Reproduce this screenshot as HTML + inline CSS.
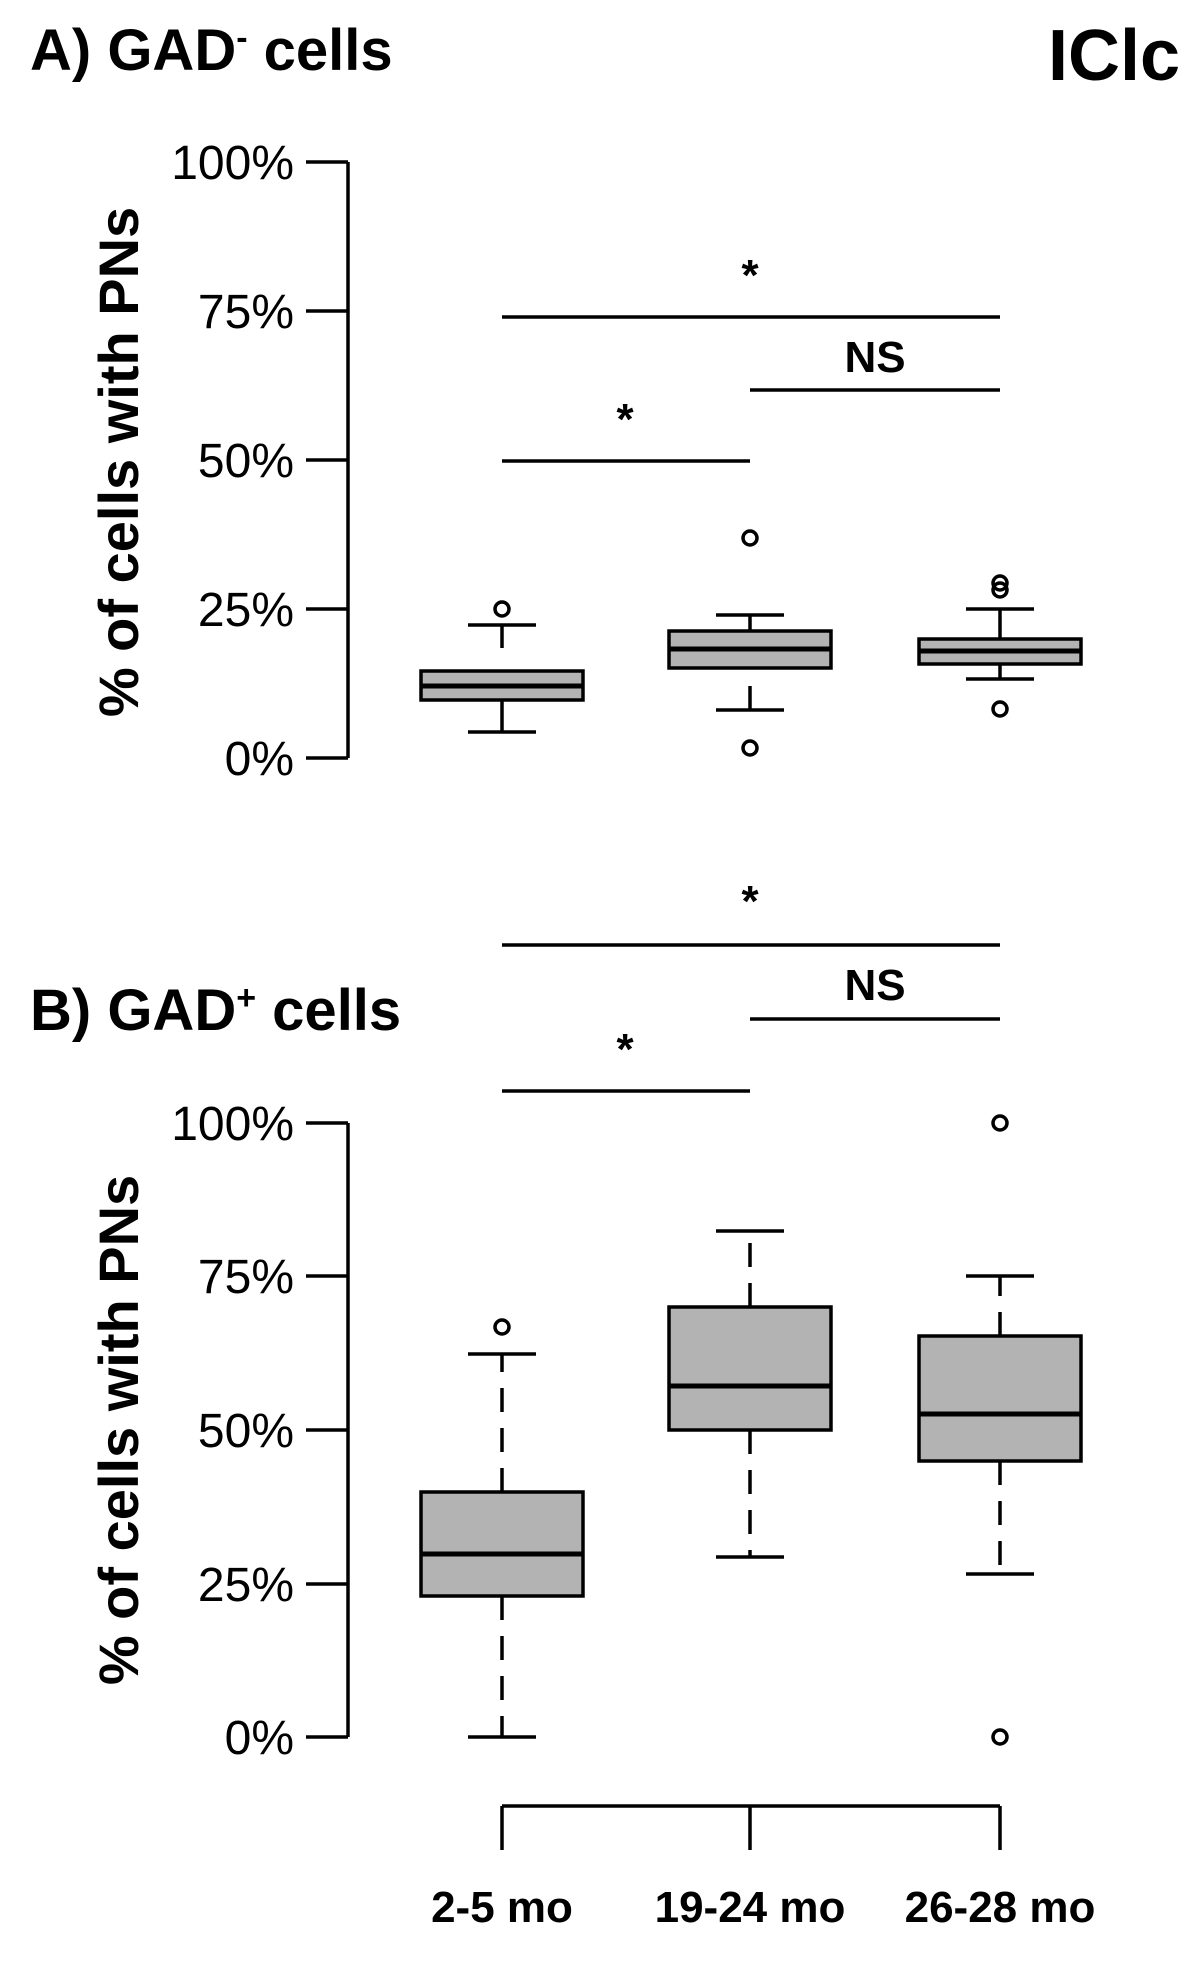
<!DOCTYPE html>
<html><head><meta charset="utf-8"><style>
html,body{margin:0;padding:0;background:#fff}
svg{display:block}
text{font-family:"Liberation Sans",Arial,sans-serif}
</style></head><body>
<svg width="1200" height="1964" viewBox="0 0 1200 1964" xmlns="http://www.w3.org/2000/svg">
<g stroke="#000" stroke-width="3.5" fill="none">
<line x1="348" y1="162" x2="348" y2="758"/>
<line x1="306" y1="162" x2="348" y2="162"/>
<line x1="306" y1="311" x2="348" y2="311"/>
<line x1="306" y1="460" x2="348" y2="460"/>
<line x1="306" y1="609" x2="348" y2="609"/>
<line x1="306" y1="758" x2="348" y2="758"/>
<line x1="502" y1="317" x2="1000" y2="317"/>
<line x1="750" y1="390" x2="1000" y2="390"/>
<line x1="502" y1="461" x2="750" y2="461"/>
<line x1="502" y1="732" x2="502" y2="701"/><line x1="468" y1="732" x2="536" y2="732"/>
<line x1="502" y1="625" x2="502" y2="648"/><line x1="468" y1="625" x2="536" y2="625"/>
<rect x="421" y="671" width="162" height="29" fill="#b3b3b3"/>
<line x1="421" y1="686" x2="583" y2="686" stroke-width="5"/>
<circle cx="502" cy="609" r="7"/>
<line x1="750" y1="710" x2="750" y2="686"/><line x1="716" y1="710" x2="784" y2="710"/>
<line x1="750" y1="615" x2="750" y2="631"/><line x1="716" y1="615" x2="784" y2="615"/>
<rect x="669" y="631" width="162" height="37" fill="#b3b3b3"/>
<line x1="669" y1="649" x2="831" y2="649" stroke-width="5"/>
<circle cx="750" cy="538" r="7"/><circle cx="750" cy="748" r="7"/>
<line x1="1000" y1="679" x2="1000" y2="664"/><line x1="966" y1="679" x2="1034" y2="679"/>
<line x1="1000" y1="609" x2="1000" y2="639"/><line x1="966" y1="609" x2="1034" y2="609"/>
<rect x="919" y="639" width="162" height="25" fill="#b3b3b3"/>
<line x1="919" y1="651" x2="1081" y2="651" stroke-width="5"/>
<circle cx="1000" cy="583" r="7"/><circle cx="1000" cy="590" r="7"/><circle cx="1000" cy="709" r="7"/>

<line x1="348" y1="1123" x2="348" y2="1737"/>
<line x1="306" y1="1123" x2="348" y2="1123"/>
<line x1="306" y1="1276" x2="348" y2="1276"/>
<line x1="306" y1="1430" x2="348" y2="1430"/>
<line x1="306" y1="1584" x2="348" y2="1584"/>
<line x1="306" y1="1737" x2="348" y2="1737"/>
<line x1="502" y1="945" x2="1000" y2="945"/>
<line x1="750" y1="1019" x2="1000" y2="1019"/>
<line x1="502" y1="1091" x2="750" y2="1091"/>
<g stroke-dasharray="24,16">
<line x1="502" y1="1596" x2="502" y2="1737"/><line x1="502" y1="1492" x2="502" y2="1354"/>
<line x1="750" y1="1430" x2="750" y2="1557"/><line x1="750" y1="1307" x2="750" y2="1231"/>
<line x1="1000" y1="1461" x2="1000" y2="1574"/><line x1="1000" y1="1336" x2="1000" y2="1276"/>
</g>
<line x1="468" y1="1737" x2="536" y2="1737"/><line x1="468" y1="1354" x2="536" y2="1354"/>
<rect x="421" y="1492" width="162" height="104" fill="#b3b3b3"/>
<line x1="421" y1="1554" x2="583" y2="1554" stroke-width="5"/>
<circle cx="502" cy="1327" r="7"/>
<line x1="716" y1="1557" x2="784" y2="1557"/><line x1="716" y1="1231" x2="784" y2="1231"/>
<rect x="669" y="1307" width="162" height="123" fill="#b3b3b3"/>
<line x1="669" y1="1386" x2="831" y2="1386" stroke-width="5"/>
<line x1="966" y1="1574" x2="1034" y2="1574"/><line x1="966" y1="1276" x2="1034" y2="1276"/>
<rect x="919" y="1336" width="162" height="125" fill="#b3b3b3"/>
<line x1="919" y1="1414" x2="1081" y2="1414" stroke-width="5"/>
<circle cx="1000" cy="1123" r="7"/><circle cx="1000" cy="1737" r="7"/>
<line x1="502" y1="1806" x2="1000" y2="1806"/>
<line x1="502" y1="1806" x2="502" y2="1850"/>
<line x1="750" y1="1806" x2="750" y2="1850"/>
<line x1="1000" y1="1806" x2="1000" y2="1850"/>
</g>

<g font-size="48" text-anchor="end" fill="#000">
<text x="294" y="179">100%</text><text x="294" y="328">75%</text><text x="294" y="477">50%</text><text x="294" y="626">25%</text><text x="294" y="775">0%</text>
<text x="294" y="1140">100%</text><text x="294" y="1293">75%</text><text x="294" y="1447">50%</text><text x="294" y="1601">25%</text><text x="294" y="1754">0%</text>
</g>
<g font-weight="bold" fill="#000">
<text x="30" y="70" font-size="58">A) GAD<tspan dy="-21" font-size="34">-</tspan><tspan dy="21"> cells</tspan></text>
<text x="30" y="1030" font-size="58">B) GAD<tspan dy="-21" font-size="34">+</tspan><tspan dy="21"> cells</tspan></text>
<text x="1180" y="80" font-size="72" text-anchor="end">IClc</text>
<text transform="translate(138,462) rotate(-90)" font-size="56" text-anchor="middle">% of cells with PNs</text>
<text transform="translate(138,1430) rotate(-90)" font-size="56" text-anchor="middle">% of cells with PNs</text>
<g font-size="44" text-anchor="middle">
<text x="750" y="290">*</text><text x="625" y="434">*</text><text x="875" y="372">NS</text>
<text x="750" y="916">*</text><text x="625" y="1064">*</text><text x="875" y="1000">NS</text>
<text x="502" y="1922">2-5 mo</text><text x="750" y="1922">19-24 mo</text><text x="1000" y="1922">26-28 mo</text>
</g>
</g>
</svg>
</body></html>
